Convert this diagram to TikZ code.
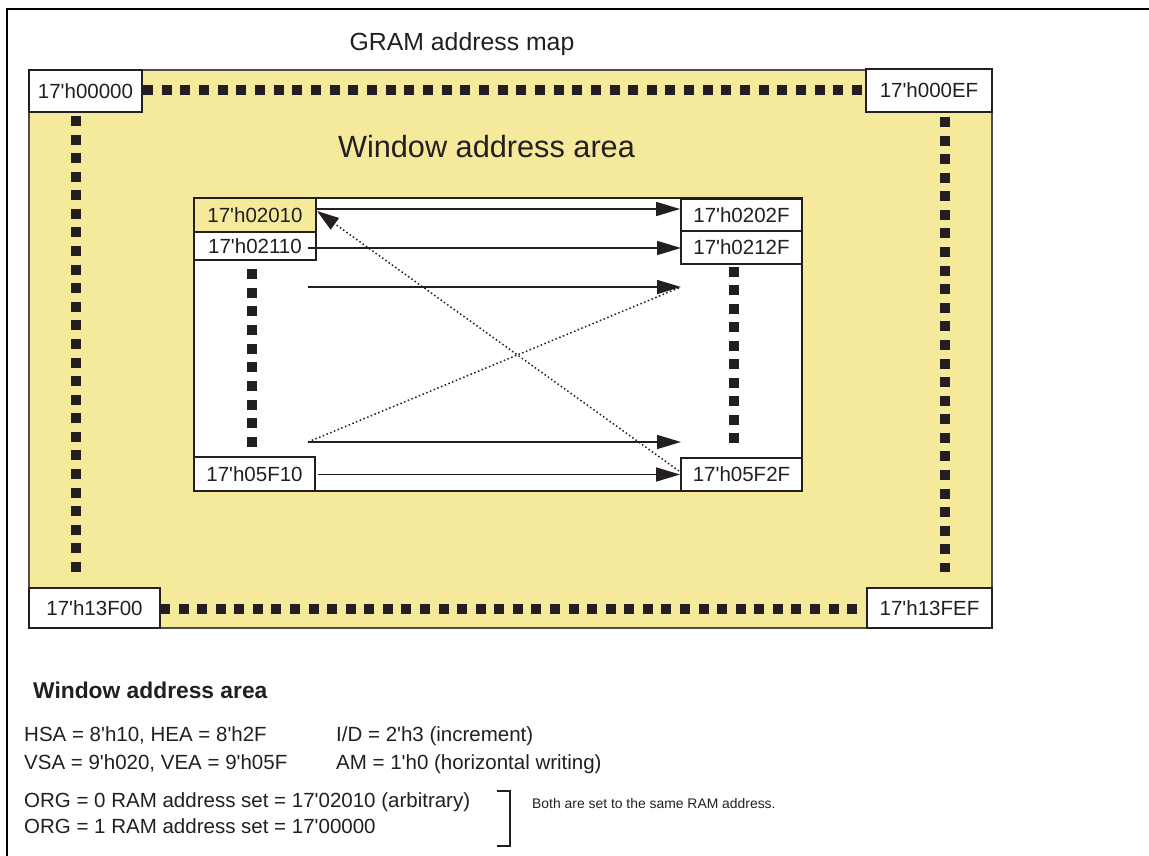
\documentclass[tikz,border=0pt]{standalone}
\usepackage{fontspec}
\setmainfont{Liberation Sans}[Ligatures=TeXOff]
\usetikzlibrary{arrows.meta}
\definecolor{ink}{HTML}{231F20}
\definecolor{gramyellow}{HTML}{F5EA9B}
\begin{document}
\begin{tikzpicture}[x=1pt,y=-1pt,
  addr/.style={draw=ink, line width=1.8pt, fill=white, inner sep=0pt, text=ink, font=\fontsize{20.5}{24}\selectfont},
  sq/.style={line width=10pt, draw=ink, dash pattern=on 10pt off #1},
  arr/.style={draw=ink, line width=1.6pt, -{Triangle[length=24pt,width=14pt]}},
  dotl/.style={draw=ink, line width=1.5pt, dash pattern=on 1.5pt off 2.5pt},
  body/.style={text=ink, font=\fontsize{20.5}{24}\selectfont, inner sep=0pt, anchor=base west}]
\useasboundingbox (0,0) rectangle (1149,856);
% outer frame (cropped)
\draw[black, line width=2.3pt] (7,856) -- (7,9) -- (1149,9);
% title
\node[text=ink, font=\fontsize{24.8}{28}\selectfont] (title) at (462,44) {GRAM address map};
% yellow GRAM area
\draw[draw=ink!80, line width=1.4pt, fill=gramyellow] (29,70) rectangle (992,628);
\node[text=ink, font=\fontsize{30.7}{34}\selectfont] (wtitle) at (486.5,147) {Window address area};
% dotted edges of GRAM
\draw[sq=8.66pt] (143,90) -- (862,90);
\draw[sq=8.58pt] (76,116) -- (76,572);
\draw[sq=8.58pt] (945,117) -- (945,572);
\draw[sq=8.57pt] (160,609) -- (857,609);
% corner boxes
\node[addr, minimum width=113pt, minimum height=42pt] (c00) at (85.5,91) {17'h00000};
\node[addr, minimum width=126pt, minimum height=43pt] (cEF) at (929,90.5) {17'h000EF};
\node[addr, minimum width=131pt, minimum height=40pt] (cF00) at (94.5,608) {17'h13F00};
\node[addr, minimum width=125pt, minimum height=40pt] (cFEF) at (929.5,608) {17'h13FEF};
% window box
\draw[draw=ink, line width=1.8pt, fill=white] (194,198) rectangle (802,491);
\draw[sq=8.67pt] (252,269) -- (252,447);
\draw[sq=8.44pt] (734,267) -- (734,443);
% window address boxes
\node[addr, fill=gramyellow, minimum width=122pt, minimum height=34pt] (b1) at (255,215) {17'h02010};
\node[addr, minimum width=122pt, minimum height=28pt] (b2) at (255,246) {17'h02110};
\node[addr, minimum width=121pt, minimum height=32pt] (b3) at (741.5,215) {17'h0202F};
\node[addr, minimum width=121pt, minimum height=33pt] (b4) at (741.5,247.5) {17'h0212F};
\node[addr, minimum width=121pt, minimum height=34pt] (b5) at (254.5,474) {17'h05F10};
\node[addr, minimum width=121pt, minimum height=33pt] (b6) at (741.5,474.5) {17'h05F2F};
% free ends
\coordinate (s2) at (308,248);
\coordinate (e2) at (681,248);
\coordinate (s3) at (308,287);
\coordinate (e3) at (681,287);
\coordinate (s4) at (308,442);
\coordinate (e4) at (681,442);
\coordinate (s5) at (318,474.5);
\coordinate (d1s) at (679,471);
\coordinate (d1e) at (317,211);
% arrows
\draw[arr] ([yshift=6pt]b1.east) -- ([yshift=6pt]b3.west);
\draw[arr] (s2) -- (e2);
\draw[arr] (s3) -- (e3);
\draw[arr] (s4) -- (e4);
\draw[arr] (s5) -- (b6.west);
\draw[dotl, -{Triangle[length=22pt,width=14pt]}] (d1s) -- (d1e);
\draw[dotl] (s4) -- (e3);
% notes
\node[text=ink, font=\bfseries\fontsize{22.8}{26}\selectfont, inner sep=0pt, anchor=base west] (n0) at (33,698) {Window address area};
\node[body] (n1) at (24,741) {HSA = 8'h10, HEA = 8'h2F};
\node[body] (n2) at (336,741) {I/D = 2'h3 (increment)};
\node[body] (n3) at (24,769) {VSA = 9'h020, VEA = 9'h05F};
\node[body] (n4) at (336,769) {AM = 1'h0 (horizontal writing)};
\node[body] (n5) at (24,807) {ORG = 0 RAM address set = 17'02010 (arbitrary)};
\node[body] (n6) at (24,833) {ORG = 1 RAM address set = 17'00000};
\draw[draw=ink, line width=1.5pt] (497,791) -- (510,791) -- (510,846) -- (497,846);
\node[text=ink, font=\fontsize{13.9}{16}\selectfont, inner sep=0pt, anchor=base west] (n7) at (532,808) {Both are set to the same RAM address.};
\end{tikzpicture}
\end{document}
